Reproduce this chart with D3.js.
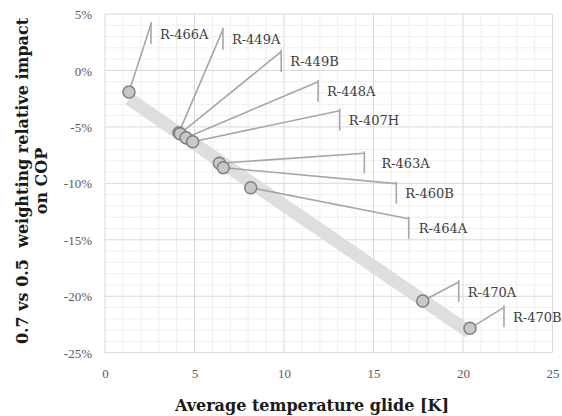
<!DOCTYPE html>
<html>
<head>
<meta charset="utf-8">
<script src="https://cdn.jsdelivr.net/npm/d3@7"></script>
<style>
  html, body { margin: 0; padding: 0; background: #fff; }
  svg { display: block; }
</style>
</head>
<body>
<svg id="chart" width="562" height="416"></svg>
<script>
// Refrigerant blends: average temperature glide [K] vs relative COP impact [%]
const refrigerants = ["R-466A", "R-449A", "R-449B", "R-448A", "R-407H",
                      "R-463A", "R-460B", "R-464A", "R-470A", "R-470B"];
const glide  = [1.34, 4.13, 4.20, 4.53, 4.90, 6.39, 6.61, 8.14, 17.75, 20.39];
const impact = [-1.91, -5.51, -5.60, -5.96, -6.31, -8.22, -8.61, -10.39, -20.42, -22.84];

const xTicks = [0, 5, 10, 15, 20, 25];
const yTicks = [5, 0, -5, -10, -15, -20, -25];

// Data-label placement (pixel offset of each label's left bracket from its point)
const labelOffset = [
  [22, -70], [44, -105], [101, -84], [132, -58], [147, -33],
  [145, -12], [173, 14], [158, 29], [36, -21], [34, -23]
];
const labelTextGap = [9, 9, 9, 9, 9, 17, 9, 10, 9, 9];

const svg = d3.select("#chart");
const x = d3.scaleLinear().domain([0, 25]).range([105, 552.5]);
const y = d3.scaleLinear().domain([-25, 5]).range([352.7, 14]);

const points = refrigerants.map((name, i) => ({ name, gx: glide[i], v: impact[i], i }));

// Gridlines: minor every 1 unit, major every 5 units
const minorX = d3.range(0, 26, 1).filter(d => d % 5 !== 0);
const minorY = d3.range(-25, 6, 1).filter(d => d % 5 !== 0);
const grid = svg.append("g");
grid.selectAll(".mx").data(minorX).join("line")
  .attr("x1", d => x(d)).attr("x2", d => x(d))
  .attr("y1", y(5)).attr("y2", y(-25))
  .attr("stroke", "#eeeeee").attr("stroke-width", 1);
grid.selectAll(".my").data(minorY).join("line")
  .attr("y1", d => y(d)).attr("y2", d => y(d))
  .attr("x1", x(0)).attr("x2", x(25))
  .attr("stroke", "#eeeeee").attr("stroke-width", 1);
grid.selectAll(".Mx").data(xTicks).join("line")
  .attr("x1", d => x(d)).attr("x2", d => x(d))
  .attr("y1", y(5)).attr("y2", y(-25))
  .attr("stroke", "#d9d9d9").attr("stroke-width", 1);
grid.selectAll(".My").data(yTicks).join("line")
  .attr("y1", d => y(d)).attr("y2", d => y(d))
  .attr("x1", x(0)).attr("x2", x(25))
  .attr("stroke", "#d9d9d9").attr("stroke-width", 1);

// Axes (labels only)
const xAxis = d3.axisBottom(x).tickValues(xTicks).tickSize(0).tickPadding(0)
  .tickFormat(d3.format("d"));
const gx = svg.append("g").attr("transform", `translate(0,${y(-25) + 25})`).call(xAxis);
const yAxis = d3.axisLeft(y).tickValues(yTicks).tickSize(0).tickPadding(0)
  .tickFormat(d => d + "%");
const gy = svg.append("g").attr("transform", `translate(${x(0) - 13},0)`).call(yAxis);
[gx, gy].forEach(g => {
  g.select(".domain").remove();
  g.selectAll("text")
    .attr("font-family", "'Liberation Serif', serif")
    .attr("font-size", 13)
    .attr("fill", "#595959");
});
gx.selectAll("text").attr("dy", 0);
gy.selectAll("text").attr("dy", "0.35em");

// Linear trendline (least squares) as a wide light band
const mx = d3.mean(glide), my = d3.mean(impact);
const slope = d3.sum(glide, (g, i) => (g - mx) * (impact[i] - my)) /
              d3.sum(glide, g => (g - mx) * (g - mx));
const icpt = my - slope * mx;
const [gMin, gMax] = d3.extent(glide);
svg.append("line")
  .attr("x1", x(gMin)).attr("y1", y(icpt + slope * gMin))
  .attr("x2", x(gMax)).attr("y2", y(icpt + slope * gMax))
  .attr("stroke", "#dedede").attr("stroke-width", 13);

// Leader lines with label brackets
const leaders = svg.append("g")
  .attr("stroke", "#a6a6a6").attr("stroke-width", 1.6).attr("fill", "none");
points.forEach(p => {
  const px = x(p.gx), py = y(p.v);
  const [dx, dy] = labelOffset[p.i];
  const bx = px + dx, by = py + dy;
  leaders.append("path").attr("d", `M${px},${py}L${bx},${by + 2}`);
  leaders.append("line")
    .attr("x1", bx).attr("x2", bx).attr("y1", by).attr("y2", by + 22);
});

// Points
svg.append("g").selectAll("circle").data(points).join("circle")
  .attr("cx", d => x(d.gx)).attr("cy", d => y(d.v)).attr("r", 6)
  .attr("fill", "#c8c8c8").attr("stroke", "#808080").attr("stroke-width", 1.5);

// Data labels
svg.append("g").selectAll("text").data(points).join("text")
  .attr("x", d => x(d.gx) + labelOffset[d.i][0] + labelTextGap[d.i])
  .attr("y", d => y(d.v) + labelOffset[d.i][1] + 12)
  .attr("dy", "0.35em")
  .attr("font-family", "'DejaVu Serif', serif")
  .attr("font-size", 13)
  .attr("fill", "#404040")
  .text(d => d.name);

// Axis titles
svg.append("text")
  .attr("x", 312).attr("y", 411)
  .attr("text-anchor", "middle")
  .attr("font-family", "'DejaVu Serif', serif")
  .attr("font-weight", "bold").attr("font-size", 16)
  .attr("fill", "#1a1a1a")
  .text("Average temperature glide [K]");

const yt = svg.append("text")
  .attr("transform", "translate(0,181) rotate(-90)")
  .attr("text-anchor", "middle")
  .attr("font-family", "'DejaVu Serif', serif")
  .attr("font-weight", "bold").attr("font-size", 16)
  .attr("fill", "#1a1a1a")
  .style("white-space", "pre");
yt.append("tspan").attr("x", 0).attr("y", 27.5).text("0.7 vs 0.5  weighting relative impact");
yt.append("tspan").attr("x", 0).attr("y", 46.5).text("on COP");
</script>
</body>
</html>
